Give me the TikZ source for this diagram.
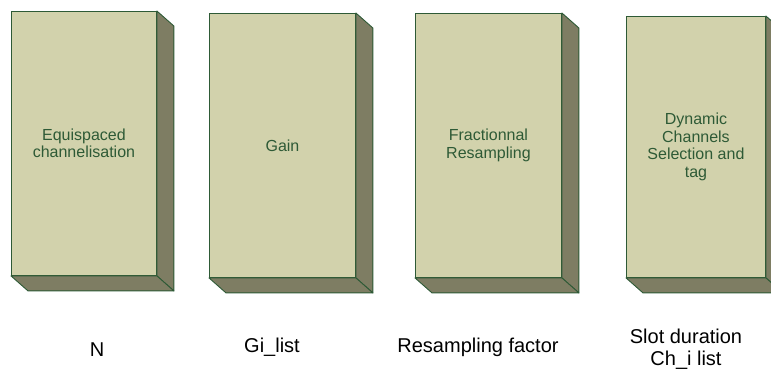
\documentclass[tikz,border=0pt]{standalone}
\usepackage{fontspec}
\setmainfont{Liberation Sans}
\definecolor{faceC}{HTML}{D2D2AC}
\definecolor{sideC}{HTML}{7E7D63}
\definecolor{edgeC}{HTML}{2E5A36}
\definecolor{txtC}{HTML}{2E5A36}
\tikzset{
  blockbox/.style={draw=edgeC, line width=0.9pt, fill=faceC, text=txtC, align=center,
    font=\fontsize{16}{17.5}\selectfont, inner sep=0pt, anchor=north west},
  shade3d/.style={draw=edgeC, line width=0.9pt, fill=sideC, line join=round},
  paramlabel/.style={font=\fontsize{20}{22}\selectfont, text=black, align=center}
}
\newcommand{\mkbox}[6]{%
  % #1 name, #2 x, #3 y, #4 width, #5 height, #6 text
  \node[blockbox, minimum width=#4pt, minimum height=#5pt] (#1) at (#2,#3) {#6};
  \draw[shade3d] (#1.north east) -- ++(17,15) -- ([shift={(17,15)}]#1.south east) -- (#1.south east) -- cycle;
  \draw[shade3d] (#1.south west) -- (#1.south east) -- ++(17,15) -- ([shift={(17,15)}]#1.south west) -- cycle;
}
\begin{document}
\begin{tikzpicture}[x=1pt,y=-1pt]
\useasboundingbox (0,0) rectangle (771,370);
\mkbox{b1}{11}{11}{145}{264}{Equispaced\\channelisation}
\mkbox{b2}{209}{13}{146}{264}{Gain}
\mkbox{b3}{415}{13}{146}{264}{Fractionnal\\Resampling}
\mkbox{b4}{626}{16}{139}{261}{Dynamic\\Channels\\Selection and\\tag}
\node[paramlabel] (l1) at (97,350) {N};
\node[paramlabel] (l2) at (272,347) {Gi\_list};
\node[paramlabel] (l3) at (478,347) {Resampling factor};
\node[paramlabel] (l4) at (686,349) {Slot duration\\Ch\_i list};
\end{tikzpicture}
\end{document}
